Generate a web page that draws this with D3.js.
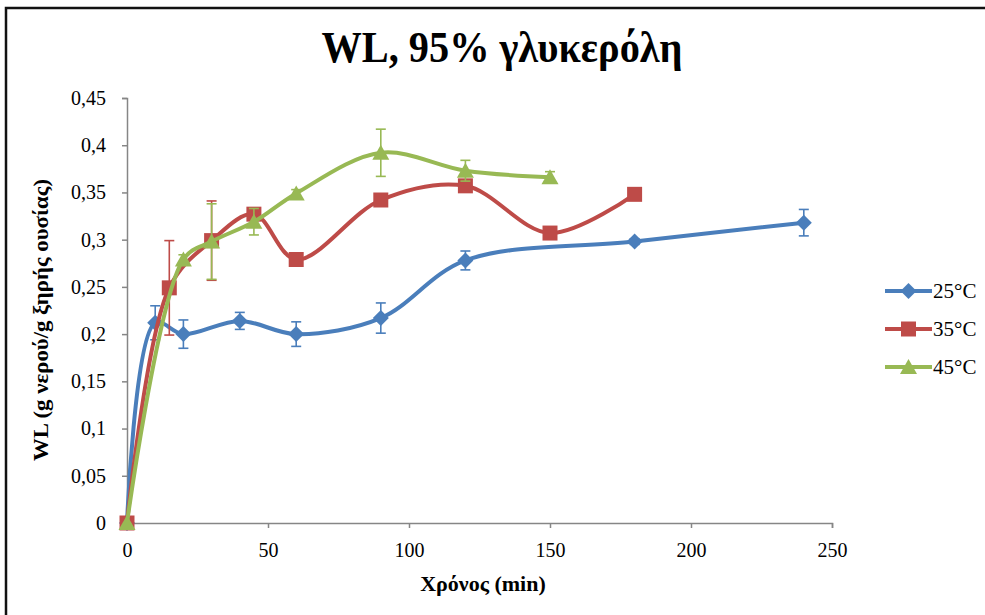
<!DOCTYPE html>
<html>
<head>
<meta charset="utf-8">
<script src="https://cdn.jsdelivr.net/npm/d3@7"></script>
<style>
  body { margin: 0; background: #fff; }
  text { font-family: "Liberation Serif", "Times New Roman", serif; }
</style>
</head>
<body>
<script>
// data
const xTicks = [0, 50, 100, 150, 200, 250];
const yTicks = [0, 0.05, 0.1, 0.15, 0.2, 0.25, 0.3, 0.35, 0.4, 0.45];

const time25 = [0, 10, 20, 40, 60, 90, 120, 180, 240];
const wl25   = [0, 0.212, 0.200, 0.214, 0.200, 0.217, 0.278, 0.298, 0.318];
const err25  = [0, 0.018, 0.015, 0.009, 0.013, 0.016, 0.010, 0.003, 0.014];

const time35 = [0, 15, 30, 45, 60, 90, 120, 150, 180];
const wl35   = [0, 0.249, 0.299, 0.327, 0.279, 0.342, 0.357, 0.307, 0.348];
const err35  = [0, 0.050, 0.042, 0.004, 0.003, 0.004, 0.004, 0.003, 0.003];

const time45 = [0, 20, 30, 45, 60, 90, 120, 150];
const wl45   = [0, 0.279, 0.298, 0.319, 0.349, 0.392, 0.373, 0.366];
const err45  = [0, 0.005, 0.040, 0.014, 0.004, 0.025, 0.011, 0.006];

const seriesNames = ["25°C", "35°C", "45°C"];
const colors = ["#4a7ebb", "#be4b48", "#98b954"];
const markers = ["diamond", "square", "triangle"];

const width = 985, height = 615;
const marginLeft = 127, marginRight = 153, marginTop = 98, marginBottom = 92;

const series = [
  {time: time25, wl: wl25, err: err25},
  {time: time35, wl: wl35, err: err35},
  {time: time45, wl: wl45, err: err45}
].map((s, i) => ({
  name: seriesNames[i], color: colors[i], marker: markers[i],
  points: s.time.map((t, j) => ({t, v: s.wl[j], e: s.err[j]}))
}));

const x = d3.scaleLinear([0, 250], [marginLeft, width - marginRight]);
const y = d3.scaleLinear([0, 0.45], [height - marginBottom, marginTop]);

const svg = d3.select("body").append("svg")
    .attr("width", width)
    .attr("height", height)
    .attr("viewBox", [0, 0, width, height]);

// chart border
svg.append("rect")
    .attr("x", 6).attr("y", 8)
    .attr("width", 1000).attr("height", 640)
    .attr("fill", "#fff")
    .attr("stroke", "#111")
    .attr("stroke-width", 2.5);

const fmt = d => d3.format(".2~f")(d).replace(".", ",");

// axes
svg.append("g")
    .attr("transform", `translate(${marginLeft},0)`)
    .call(d3.axisLeft(y).tickValues(yTicks).tickFormat(fmt).tickSizeOuter(0).tickSize(5).tickPadding(16))
    .call(g => g.select(".domain").attr("stroke", "#868686").attr("stroke-width", 1.5))
    .call(g => g.selectAll(".tick line").attr("stroke", "#868686").attr("stroke-width", 1.5))
    .call(g => g.selectAll(".tick text").attr("font-size", 20).attr("font-family", "Liberation Serif").attr("fill", "#000"));

svg.append("g")
    .attr("transform", `translate(0,${height - marginBottom})`)
    .call(d3.axisBottom(x).tickValues(xTicks).tickSizeOuter(0).tickSize(5).tickPadding(15))
    .call(g => g.select(".domain").attr("stroke", "#868686").attr("stroke-width", 1.5))
    .call(g => g.selectAll(".tick line").attr("stroke", "#868686").attr("stroke-width", 1.5))
    .call(g => g.selectAll(".tick text").attr("font-size", 20).attr("font-family", "Liberation Serif").attr("fill", "#000"));

// titles
svg.append("text")
    .attr("x", 502).attr("y", 62)
    .attr("text-anchor", "middle")
    .attr("font-size", 44).attr("font-weight", "bold")
    .attr("textLength", 361).attr("lengthAdjust", "spacingAndGlyphs")
    .text("WL, 95% γλυκερόλη");

svg.append("text")
    .attr("x", 483).attr("y", 591)
    .attr("text-anchor", "middle")
    .attr("font-size", 22).attr("font-weight", "bold")
    .text("Χρόνος (min)");

svg.append("text")
    .attr("transform", "translate(48,320) rotate(-90)")
    .attr("text-anchor", "middle")
    .attr("font-size", 20).attr("font-weight", "bold")
    .attr("textLength", 282).attr("lengthAdjust", "spacingAndGlyphs")
    .text("WL (g νερού/g ξηρής ουσίας)");

// smoothed lines, like Excel's "smoothed line" option
const line = d3.line()
    .x(d => x(d.t))
    .y(d => y(d.v))
    .curve(d3.curveCatmullRom.alpha(0.5));

function markerPath(type) {
  if (type === "diamond") return "M0,-8L8,0L0,8L-8,0Z";
  if (type === "square") return "M-7.5,-7.5H7.5V7.5H-7.5Z";
  return "M0,-8L8.5,7L-8.5,7Z";
}

series.forEach(s => {
  const g = svg.append("g");
  g.append("path")
      .attr("d", line(s.points))
      .attr("fill", "none")
      .attr("stroke", s.color)
      .attr("stroke-width", 4)
      .attr("stroke-linejoin", "round");

  const eb = g.append("g")
      .attr("stroke", s.color)
      .attr("stroke-width", 1.6)
      .selectAll("g")
      .data(s.points.filter(d => d.e > 0))
      .join("g");
  eb.append("line")
      .attr("x1", d => x(d.t)).attr("x2", d => x(d.t))
      .attr("y1", d => y(d.v - d.e)).attr("y2", d => y(d.v + d.e));
  eb.append("line")
      .attr("x1", d => x(d.t) - 5).attr("x2", d => x(d.t) + 5)
      .attr("y1", d => y(d.v + d.e)).attr("y2", d => y(d.v + d.e));
  eb.append("line")
      .attr("x1", d => x(d.t) - 5).attr("x2", d => x(d.t) + 5)
      .attr("y1", d => y(d.v - d.e)).attr("y2", d => y(d.v - d.e));

  g.selectAll(".mk")
      .data(s.points)
      .join("path")
      .attr("class", "mk")
      .attr("transform", d => `translate(${x(d.t)},${y(d.v)})`)
      .attr("d", markerPath(s.marker))
      .attr("fill", s.color);
});

// legend
const legend = svg.append("g")
    .selectAll("g")
    .data(series)
    .join("g")
    .attr("transform", (d, i) => `translate(885,${291 + i * 38})`);
legend.append("line")
    .attr("x1", 0).attr("x2", 47)
    .attr("stroke", d => d.color)
    .attr("stroke-width", 4);
legend.append("path")
    .attr("transform", "translate(23.5,0)")
    .attr("d", d => markerPath(d.marker))
    .attr("fill", d => d.color);
legend.append("text")
    .attr("x", 48).attr("y", 7)
    .attr("font-size", 21)
    .text(d => d.name);
</script>
</body>
</html>
